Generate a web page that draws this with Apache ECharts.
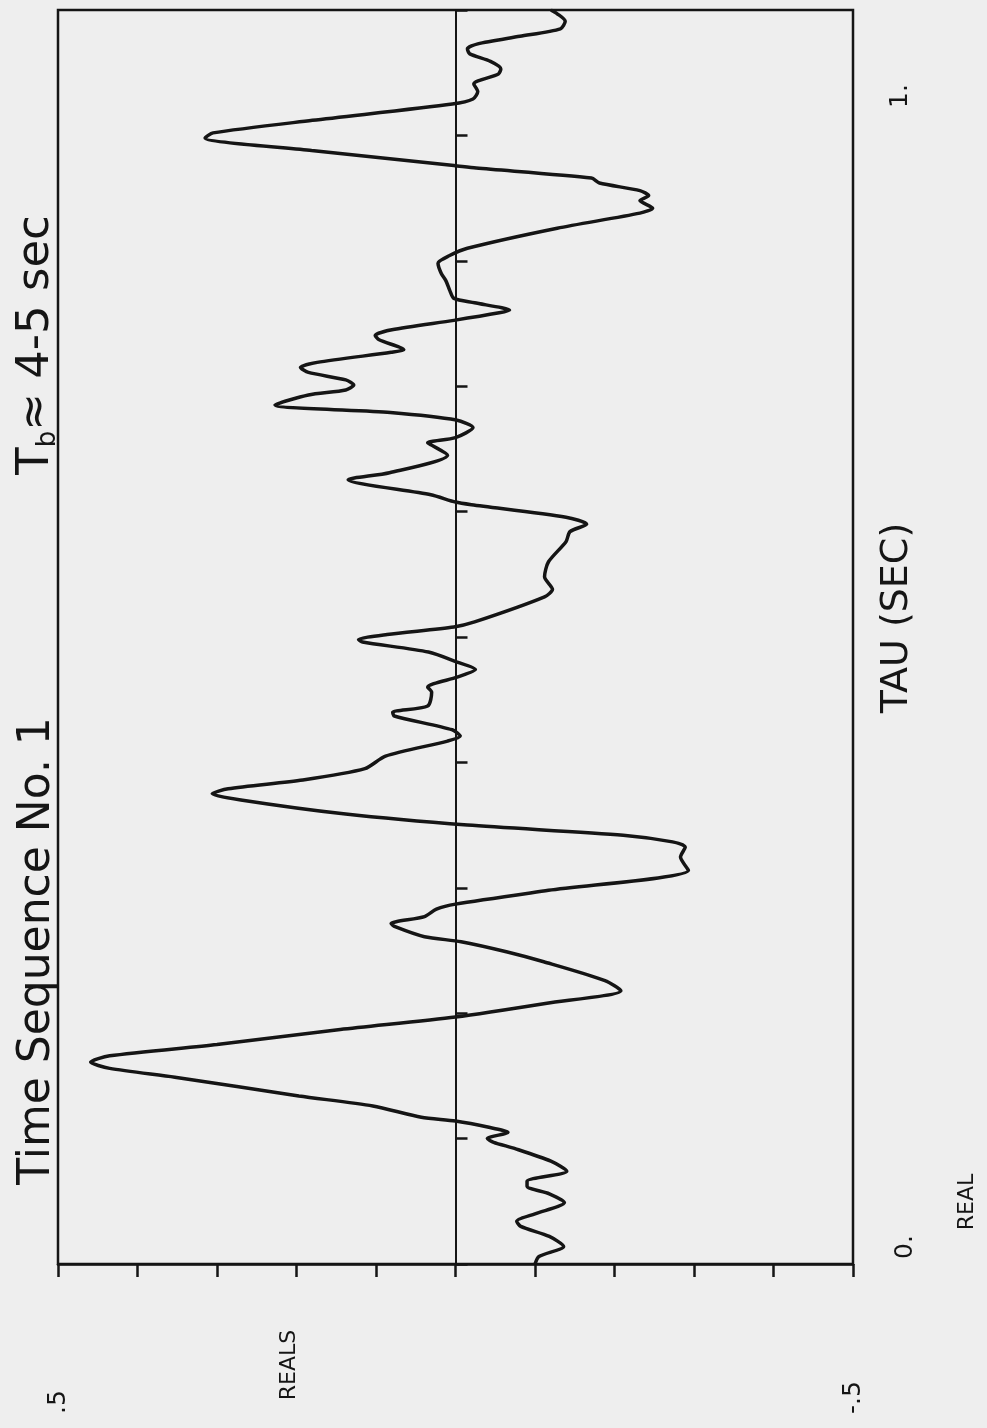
<!DOCTYPE html>
<html><head><meta charset="utf-8">
<script src="https://cdn.jsdelivr.net/npm/echarts@6/dist/echarts.min.js"></script>
<style>html,body{margin:0;padding:0;background:#eeeeee;} #c{width:987px;height:1428px;}</style>
</head><body><div id="c"></div>
<script>
// TAU (sec) samples, bottom (0) to top (1)
const tau = [0.000,0.006,0.014,0.022,0.030,0.034,0.040,0.049,0.056,0.062,0.066,0.074,0.082,0.092,0.097,0.100,0.105,0.109,0.114,0.117,0.126,0.134,0.149,0.156,0.161,0.166,0.175,0.187,0.197,0.208,0.218,0.226,0.241,0.249,0.257,0.261,0.269,0.2715,0.277,0.283,0.287,0.298,0.314,0.3245,0.3325,0.3366,0.342,0.350,0.359,0.370,0.375,0.379,0.386,0.395,0.405,0.417,0.421,0.426,0.437,0.440,0.445,0.456,0.460,0.468,0.474,0.480,0.488,0.496,0.498,0.502,0.508,0.512,0.532,0.538,0.548,0.560,0.576,0.584,0.590,0.5955,0.6055,0.6076,0.6134,0.6254,0.631,0.645,0.653,0.655,0.659,0.667,0.673,0.679,0.685,0.693,0.697,0.701,0.705,0.711,0.715,0.719,0.727,0.729,0.737,0.7405,0.745,0.7525,0.7585,0.7605,0.7665,0.770,0.776,0.784,0.790,0.798,0.804,0.810,0.826,0.838,0.842,0.848,0.852,0.856,0.862,0.866,0.874,0.876,0.888,0.898,0.902,0.912,0.925,0.929,0.935,0.941,0.949,0.953,0.959,0.965,0.969,0.973,0.979,0.985,0.991,0.997,1.000];
// REALS values at those TAU samples
const reals = [-0.100,-0.105,-0.136,-0.118,-0.082,-0.077,-0.100,-0.137,-0.118,-0.090,-0.090,-0.140,-0.120,-0.075,-0.048,-0.040,-0.066,-0.042,0.000,0.043,0.104,0.197,0.353,0.435,0.459,0.435,0.300,0.145,0.000,-0.115,-0.208,-0.188,-0.111,-0.064,-0.007,0.039,0.076,0.081,0.039,0.024,0.000,-0.117,-0.293,-0.283,-0.289,-0.273,-0.211,-0.015,0.141,0.270,0.306,0.286,0.192,0.114,0.088,0.010,-0.006,0.004,0.077,0.079,0.035,0.030,0.035,-0.002,-0.025,-0.002,0.034,0.117,0.122,0.086,0.002,-0.024,-0.112,-0.122,-0.112,-0.117,-0.139,-0.144,-0.165,-0.139,-0.020,0.000,0.031,0.135,0.083,0.010,0.030,0.035,0.000,-0.022,-0.001,0.082,0.227,0.185,0.138,0.128,0.138,0.185,0.195,0.174,0.081,0.065,0.096,0.101,0.080,0.002,-0.055,-0.068,-0.024,0.002,0.007,0.012,0.018,0.022,0.008,-0.015,-0.128,-0.232,-0.248,-0.232,-0.243,-0.232,-0.181,-0.171,-0.026,0.002,0.181,0.315,0.305,0.180,0.004,-0.022,-0.028,-0.023,-0.054,-0.057,-0.044,-0.018,-0.015,-0.028,-0.081,-0.132,-0.138,-0.128,-0.120];
const realsTickLabels = {'0.5': '.5', '-0.5': '-.5'};
const tauTickLabels = ['0.', '1.'];

const chart = echarts.init(document.getElementById('c'), null, {renderer: 'canvas'});
const ink = '#151515';
const font = 'DejaVu Sans';
const data = tau.map((t, i) => [reals[i], t]);

function rtext(text, x, y, size, extra) {
  return Object.assign({
    type: 'text', x: x, y: y, rotation: Math.PI / 2,
    style: {text: text, fontSize: size, fontFamily: font, fill: ink, align: 'center', verticalAlign: 'middle'}
  }, extra || {});
}

chart.setOption({
  backgroundColor: '#eeeeee',
  animation: false,
  grid: {left: 58, right: 134, top: 10, bottom: 164, show: true, borderColor: ink, borderWidth: 2.5},
  xAxis: {
    type: 'value', min: -0.5, max: 0.5, interval: 0.1, inverse: true, position: 'bottom',
    axisLine: {onZero: false, lineStyle: {color: ink, width: 2.5}},
    axisTick: {length: 13, lineStyle: {color: ink, width: 2.5}},
    splitLine: {show: false},
    axisLabel: {
      rotate: 90, align: 'left', margin: 150, fontSize: 25, fontFamily: font, color: ink,
      formatter: v => {
        if (Math.abs(v - 0.5) < 1e-9) return realsTickLabels['0.5'];
        if (Math.abs(v + 0.5) < 1e-9) return realsTickLabels['-0.5'];
        return '';
      }
    }
  },
  yAxis: {
    type: 'value', min: 0, max: 1, interval: 0.1, position: 'left',
    axisLine: {onZero: true, lineStyle: {color: ink, width: 2}},
    axisTick: {inside: true, length: 12, lineStyle: {color: ink, width: 2.5}},
    axisLabel: {show: false},
    splitLine: {show: false}
  },
  series: [{
    type: 'line', data: data, showSymbol: false, smooth: 0.25,
    lineStyle: {color: ink, width: 3.5}
  }],
  graphic: [
    rtext(tauTickLabels[0], 905, 1247, 25),
    rtext(tauTickLabels[1], 900, 96, 25),
    rtext('TAU (SEC)', 897, 618, 38),
    rtext('REALS', 289, 1365, 22),
    rtext('REAL', 967, 1202, 22),
    rtext('Time Sequence No. 1', 38, 951, 44),
    {
      type: 'text', x: 36, y: 345, rotation: Math.PI / 2,
      style: {text: 'T{s|b}≈ 4-5 sec', fontSize: 45, fontFamily: font, fill: ink, align: 'center', verticalAlign: 'middle',
        rich: {s: {fontSize: 26, fontFamily: font, fill: ink, padding: [24, 0, 0, 0]}}}
    }
  ]
});
</script>
</body></html>
